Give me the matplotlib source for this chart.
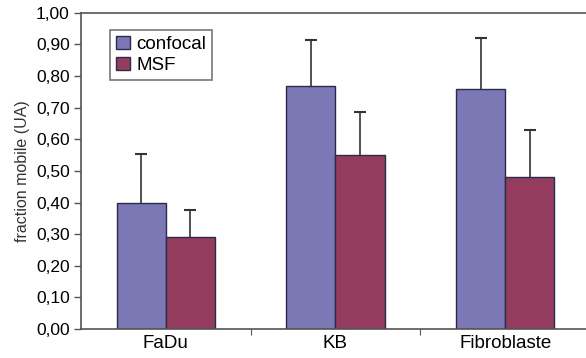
import numpy as np
import matplotlib.pyplot as plt
from matplotlib.ticker import FuncFormatter

plt.rcParams['font.family'] = ['Liberation Sans', 'DejaVu Sans']

categories = ["FaDu", "KB", "Fibroblaste"]
confocal = [0.40, 0.77, 0.76]
confocal_err = [0.155, 0.145, 0.16]
msf = [0.29, 0.55, 0.48]
msf_err = [0.085, 0.135, 0.15]

fig = plt.figure(figsize=(5.86, 3.58), dpi=100)
ax = fig.add_axes([0.138, 0.081, 0.869, 0.883])

x = np.arange(len(categories))
w = 0.29

ax.bar(x - w / 2, confocal, w, color="#7b78b5", edgecolor="#2a2a4a", linewidth=1,
       label="confocal", zorder=2)
ax.bar(x + w / 2, msf, w, color="#943c5e", edgecolor="#2a2a4a", linewidth=1,
       label="MSF", zorder=2)
# error bars drawn under the bars so only the upper half shows
ax.errorbar(x - w / 2, confocal, yerr=confocal_err, fmt="none", ecolor="#333333",
            elinewidth=1.2, capsize=4.5, capthick=1.5, zorder=1)
ax.errorbar(x + w / 2, msf, yerr=msf_err, fmt="none", ecolor="#333333",
            elinewidth=1.2, capsize=4.5, capthick=1.5, zorder=1)

ax.set_xlim(-0.5, 2.5)
ax.set_ylim(0, 1.0)
ax.set_yticks(np.arange(0, 1.01, 0.1))
ax.yaxis.set_major_formatter(FuncFormatter(lambda v, p: f"{v:.2f}".replace(".", ",")))
ax.set_xticks([0.5, 1.5])
ax.set_xticklabels([])
ax.set_xticks(x, minor=True)
ax.set_xticklabels(categories, minor=True)
ax.tick_params(axis="x", which="minor", length=0, labelsize=13.5, pad=4)
ax.tick_params(axis="x", which="major", length=4, direction="out", color="#555555")
ax.tick_params(axis="y", length=5, labelsize=12.5, color="#555555", width=1, pad=3)
ax.set_ylabel("fraction mobile (UA)", fontsize=11.5, color="#333333", labelpad=4)

for s in ["left", "bottom", "top"]:
    ax.spines[s].set_color("#555555")
    ax.spines[s].set_linewidth(1.2)
ax.spines["right"].set_visible(False)

leg = ax.legend(loc="upper left", bbox_to_anchor=(0.057, 0.946), borderaxespad=0,
                fancybox=False, edgecolor="#555555", fontsize=13.5,
                handlelength=0.75, handleheight=0.75, handletextpad=0.35,
                labelspacing=0.2, borderpad=0.3)
leg.get_frame().set_linewidth(1.2)

fig.savefig("out.png", dpi=100)
